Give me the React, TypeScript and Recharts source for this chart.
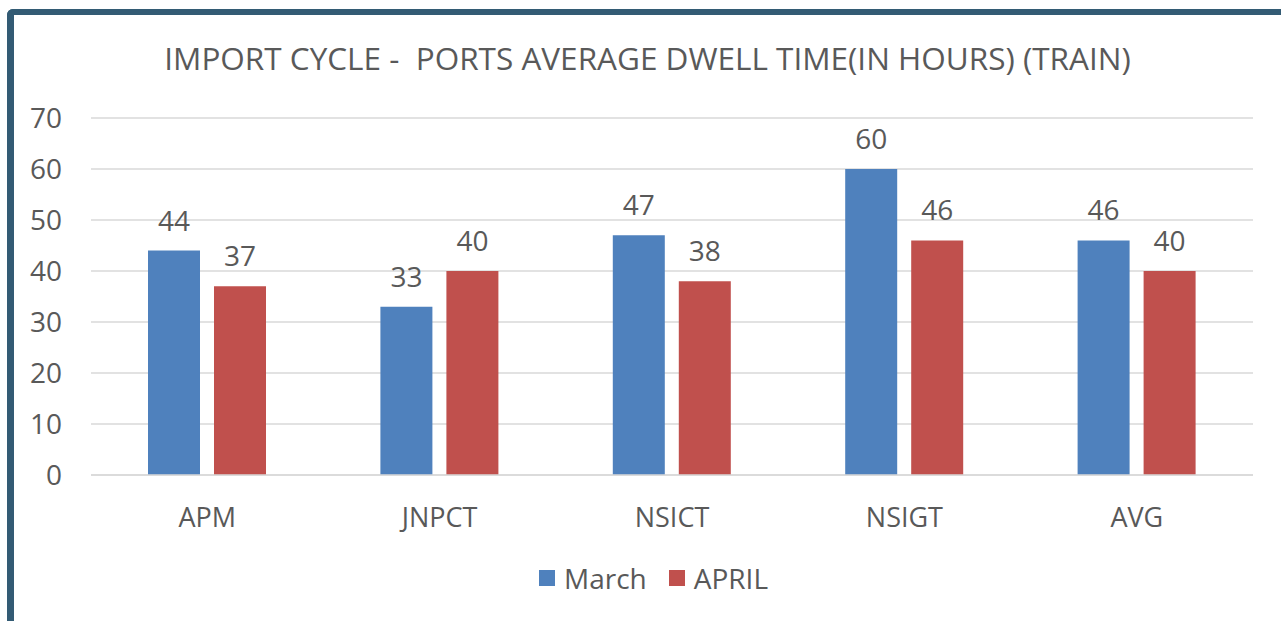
import React from 'react';
import { BarChart, Bar, XAxis, YAxis, CartesianGrid, Legend, LabelList } from 'recharts';

const categories = ['APM', 'JNPCT', 'NSICT', 'NSIGT', 'AVG'];
const marchValues = [44, 33, 47, 60, 46];
const aprilValues = [37, 40, 38, 46, 40];
const yTicks = [0, 10, 20, 30, 40, 50, 60, 70];

const seriesInfo = [
    { key: 'march', name: 'March', color: '#4f81bd' },
    { key: 'april', name: 'APRIL', color: '#c0504d' }
];

const chartData = categories.map((name, i) => ({
    name,
    march: marchValues[i],
    april: aprilValues[i]
}));

const textColor = '#595959';
const fontFamily = '"Open Sans", "Noto Sans", sans-serif';

function LegendContent() {
    return (
        <div style={{ display: 'flex', justifyContent: 'center', alignItems: 'center', paddingLeft: 26, fontFamily, fontSize: 28, color: textColor, lineHeight: '46px' }}>
            {seriesInfo.map((s, i) => (
                <div key={s.key} style={{ display: 'flex', alignItems: 'center', marginLeft: i > 0 ? 22 : 0 }}>
                    <span style={{ display: 'inline-block', width: 16, height: 16, background: s.color, marginRight: 9 }} />
                    <span>{s.name}</span>
                </div>
            ))}
        </div>
    );
}

export default function App() {
    return (
        <div style={{ position: 'absolute', left: 0, top: 0, width: 1281, height: 621, overflow: 'hidden', background: '#fff' }}>
            <div style={{
                position: 'absolute', left: 7, top: 9, width: 1274, height: 612, boxSizing: 'border-box',
                borderLeft: '7px solid #335b74', borderTop: '6px solid #335b74', borderTopLeftRadius: 6
            }} />
            <div style={{
                position: 'absolute', left: 0, top: 42, width: 1295, textAlign: 'center',
                fontFamily, fontSize: 31.5, lineHeight: 1, color: textColor, whiteSpace: 'pre'
            }}>
                {'IMPORT CYCLE -  PORTS AVERAGE DWELL TIME(IN HOURS) (TRAIN)'}
            </div>
            <div style={{ position: 'absolute', left: 0, top: 0 }}>
                <BarChart
                    width={1281}
                    height={621}
                    data={chartData}
                    margin={{ top: 118, right: 28, left: 0, bottom: 40 }}
                    barSize={52}
                    barGap={14}
                    style={{ fontFamily }}
                >
                    <CartesianGrid vertical={false} stroke="#d9d9d9" strokeWidth={1.5} />
                    <XAxis
                        dataKey="name"
                        height={60}
                        tickLine={false}
                        tickSize={0}
                        tickMargin={33}
                        axisLine={{ stroke: '#d9d9d9', strokeWidth: 1.5 }}
                        tick={{ fill: textColor, fontSize: 27 }}
                    />
                    <YAxis
                        width={91}
                        domain={[0, 70]}
                        ticks={yTicks}
                        interval={0}
                        tickLine={false}
                        tickSize={0}
                        tickMargin={29}
                        axisLine={false}
                        tick={{ fill: textColor, fontSize: 28 }}
                    />
                    <Legend
                        content={<LegendContent />}
                        wrapperStyle={{ top: 555, left: 0, width: 1281, height: 46 }}
                    />
                    {seriesInfo.map(s => (
                        <Bar key={s.key} dataKey={s.key} name={s.name} fill={s.color} isAnimationActive={false}>
                            <LabelList dataKey={s.key} position="top" offset={20} fill={textColor} fontSize={28} />
                        </Bar>
                    ))}
                </BarChart>
            </div>
        </div>
    );
}
